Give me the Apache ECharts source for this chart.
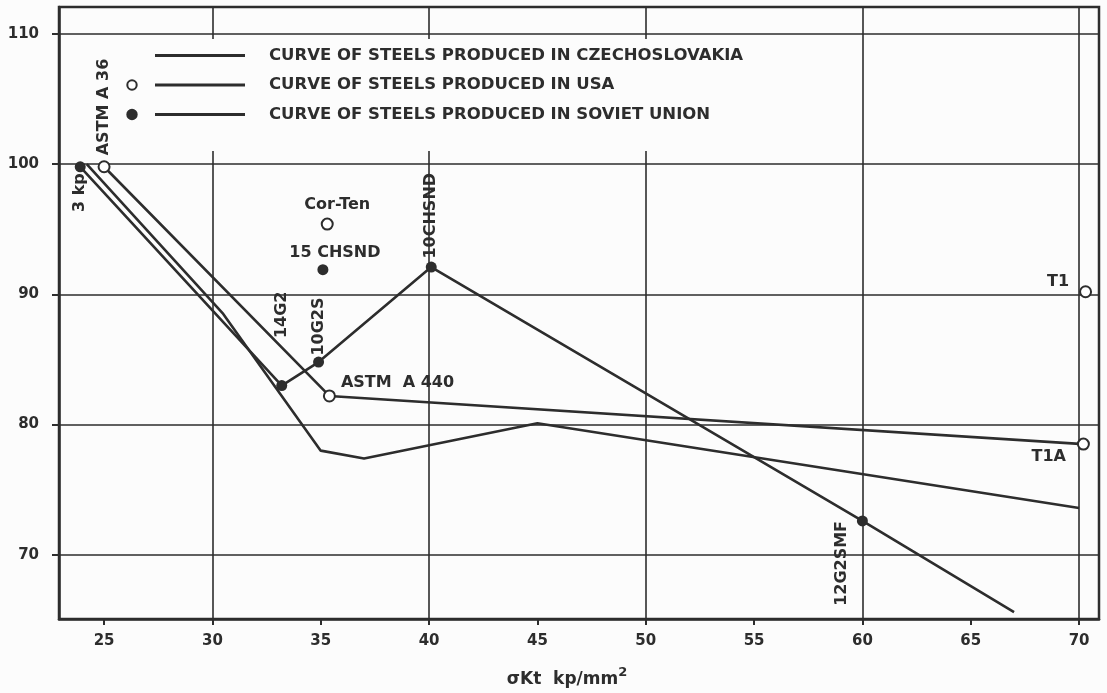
<!DOCTYPE html>
<html>
<head>
<meta charset="utf-8">
<script src="https://cdn.jsdelivr.net/npm/echarts@6/dist/echarts.min.js"></script>
<style>
  html, body { margin: 0; padding: 0; background: #fcfcfc; }
  #chart { width: 1107px; height: 693px; }
</style>
</head>
<body>
<div id="chart"></div>
<script>
// Axis ticks and grid lines
const xTicks = [25, 30, 35, 40, 45, 50, 55, 60, 65, 70];
const yTicks = [70, 80, 90, 100, 110];
const gridX = [30, 40, 50, 60, 70];
const gridY = [70, 80, 90, 100, 110];

const seriesNames = [
  'CURVE OF STEELS PRODUCED IN CZECHOSLOVAKIA',
  'CURVE OF STEELS PRODUCED IN USA',
  'CURVE OF STEELS PRODUCED IN SOVIET UNION'
];

// Czechoslovak steels (curve only)
const czechX = [24.2, 30.5, 35.0, 37.0, 45.0, 70.0];
const czechY = [100.0, 88.5, 78.0, 77.4, 80.1, 73.6];

// US steels on the curve
const usaX = [25.0, 35.4, 70.2];
const usaY = [99.8, 82.2, 78.5];
const usaLabels = ['ASTM A 36', 'ASTM  A 440', 'T1A'];
// US steels off the curve
const usaExtraX = [35.3, 70.3];
const usaExtraY = [95.4, 90.2];
const usaExtraLabels = ['Cor-Ten', 'T1'];

// Soviet steels on the curve (last point is the curve end)
const sovietX = [23.9, 33.2, 34.9, 40.1, 60.0, 67.0];
const sovietY = [99.8, 83.0, 84.8, 92.1, 72.6, 65.6];
const sovietLabels = ['3 kp', '14G2', '10G2S', '10CHSND', '12G2SMF', ''];
// Soviet steel off the curve
const sovietExtraX = [35.1];
const sovietExtraY = [91.9];
const sovietExtraLabels = ['15 CHSND'];

const INK = '#2d2d2d';
const PAPER = '#fcfcfc';
const FONT = 'DejaVu Sans';

// Where each point label sits relative to its marker
const vUp = { rotate: 90, position: 'top', align: 'left', verticalAlign: 'middle' };
const vDown = { rotate: 90, position: 'bottom', align: 'right', verticalAlign: 'middle' };
const labelPlacement = {
  'ASTM A 36': Object.assign({ distance: 5 }, vUp),
  '3 kp': Object.assign({ distance: 1 }, vDown),
  '14G2': Object.assign({ distance: 42 }, vUp),
  '10G2S': Object.assign({ distance: 1 }, vUp),
  '10CHSND': Object.assign({ distance: 3 }, vUp),
  '12G2SMF': { rotate: 90, position: 'left', align: 'right', verticalAlign: 'middle', distance: 15 },
  'ASTM  A 440': { position: 'right', distance: 5, offset: [0, -13] },
  'T1A': { position: 'left', distance: 11, offset: [0, 13] },
  'T1': { position: 'left', distance: 10, offset: [0, -10] },
  'Cor-Ten': { position: 'top', distance: 5, offset: [10, 0] },
  '15 CHSND': { position: 'top', distance: 3, offset: [12, 0] }
};

function points(xs, ys, names) {
  return xs.map((x, i) => {
    const name = names ? names[i] : '';
    const item = { value: [x, ys[i]], name: name };
    if (name) {
      item.label = Object.assign({
        show: true, formatter: name, color: INK,
        fontFamily: FONT, fontWeight: 'bold', fontSize: 16
      }, labelPlacement[name]);
    }
    return item;
  });
}

// Legend icons: symbol on the left, line segment on the right
const ext = 'M0 0L0 0ZM138 12L138 12Z';
const legLine = 'M29 4.6L119 4.6L119 7.4L29 7.4Z';
const ring = 'M0.3 6A5.7 5.7 0 1 1 11.7 6A5.7 5.7 0 1 1 0.3 6ZM2.3 6A3.7 3.7 0 1 0 9.7 6A3.7 3.7 0 1 0 2.3 6Z';
const disc = 'M0.3 6A5.7 5.7 0 1 1 11.7 6A5.7 5.7 0 1 1 0.3 6Z';

const chart = echarts.init(document.getElementById('chart'));
chart.setOption({
  backgroundColor: PAPER,
  animation: false,
  textStyle: { fontFamily: FONT },
  grid: {
    left: 59, right: 8, top: 7, bottom: 73,
    show: true, borderColor: INK, borderWidth: 2.5, backgroundColor: 'transparent'
  },
  legend: {
    orient: 'vertical',
    left: 116, top: 39,
    padding: [8, 10, 28, 10],
    backgroundColor: PAPER,
    itemWidth: 138, itemHeight: 12, itemGap: 12.5,
    symbolKeepAspect: false,
    selectedMode: false,
    textStyle: { color: INK, fontFamily: FONT, fontWeight: 'bold', fontSize: 16.5, lineHeight: 16 },
    data: [
      { name: seriesNames[0], icon: 'path://' + ext + legLine, itemStyle: { color: INK } },
      { name: seriesNames[1], icon: 'path://' + ext + ring + legLine, itemStyle: { color: INK } },
      { name: seriesNames[2], icon: 'path://' + ext + disc + legLine, itemStyle: { color: INK } }
    ]
  },
  xAxis: {
    type: 'value', min: 22.92, max: 70.92,
    name: '{a|σKt  kp/mm}{s|2}',
    nameLocation: 'middle', nameGap: 47,
    nameTextStyle: {
      padding: [0, 24, 0, 0],
      rich: {
        a: { fontFamily: FONT, fontWeight: 'bold', fontSize: 17, color: INK, lineHeight: 22, verticalAlign: 'bottom' },
        s: { fontFamily: FONT, fontWeight: 'bold', fontSize: 13, color: INK, lineHeight: 22, verticalAlign: 'top' }
      }
    },
    axisLine: { show: true, onZero: false, lineStyle: { color: INK, width: 2.5 } },
    axisTick: { show: true, inside: false, length: 6, customValues: xTicks, lineStyle: { color: INK, width: 2 } },
    axisLabel: { customValues: xTicks, margin: 15, color: INK, fontFamily: FONT, fontWeight: 'bold', fontSize: 15 },
    splitLine: { show: false }
  },
  yAxis: {
    type: 'value', min: 65.07, max: 112.07,
    axisLine: { show: true, onZero: false, lineStyle: { color: INK, width: 2.5 } },
    axisTick: { show: true, inside: false, length: 7, customValues: yTicks, lineStyle: { color: INK, width: 2 } },
    axisLabel: { customValues: yTicks, margin: 20, color: INK, fontFamily: FONT, fontWeight: 'bold', fontSize: 15 },
    splitLine: { show: false }
  },
  series: [
    {
      // grid lines, kept underneath the legend box and the curves
      type: 'line', data: [], z: 1, silent: true,
      markLine: {
        z: 1, silent: true, symbol: 'none', animation: false,
        label: { show: false },
        lineStyle: { color: INK, width: 1.6, type: 'solid' },
        emphasis: { disabled: true },
        data: gridX.map(v => ({ xAxis: v })).concat(gridY.map(v => ({ yAxis: v })))
      }
    },
    {
      name: seriesNames[0], type: 'line', z: 3,
      data: points(czechX, czechY),
      symbol: 'none', showSymbol: false,
      lineStyle: { color: INK, width: 2.6 },
      itemStyle: { color: INK }
    },
    {
      name: seriesNames[1], type: 'line', z: 3,
      data: points(usaX, usaY, usaLabels),
      symbol: 'emptyCircle', symbolSize: 11, showSymbol: true,
      lineStyle: { color: INK, width: 2.6 },
      itemStyle: { color: INK, borderWidth: 2 }
    },
    {
      name: seriesNames[1], type: 'scatter', z: 3,
      data: points(usaExtraX, usaExtraY, usaExtraLabels),
      symbol: 'emptyCircle', symbolSize: 11,
      itemStyle: { color: INK, borderWidth: 2, opacity: 1 }
    },
    {
      name: seriesNames[2], type: 'line', z: 3,
      data: points(sovietX, sovietY, sovietLabels),
      symbol: (val, params) => params.dataIndex === sovietX.length - 1 ? 'none' : 'circle',
      symbolSize: 11, showSymbol: true,
      lineStyle: { color: INK, width: 2.6 },
      itemStyle: { color: INK }
    },
    {
      name: seriesNames[2], type: 'scatter', z: 3,
      data: points(sovietExtraX, sovietExtraY, sovietExtraLabels),
      symbol: 'circle', symbolSize: 11,
      itemStyle: { color: INK, opacity: 1 }
    }
  ]
});
</script>
</body>
</html>
